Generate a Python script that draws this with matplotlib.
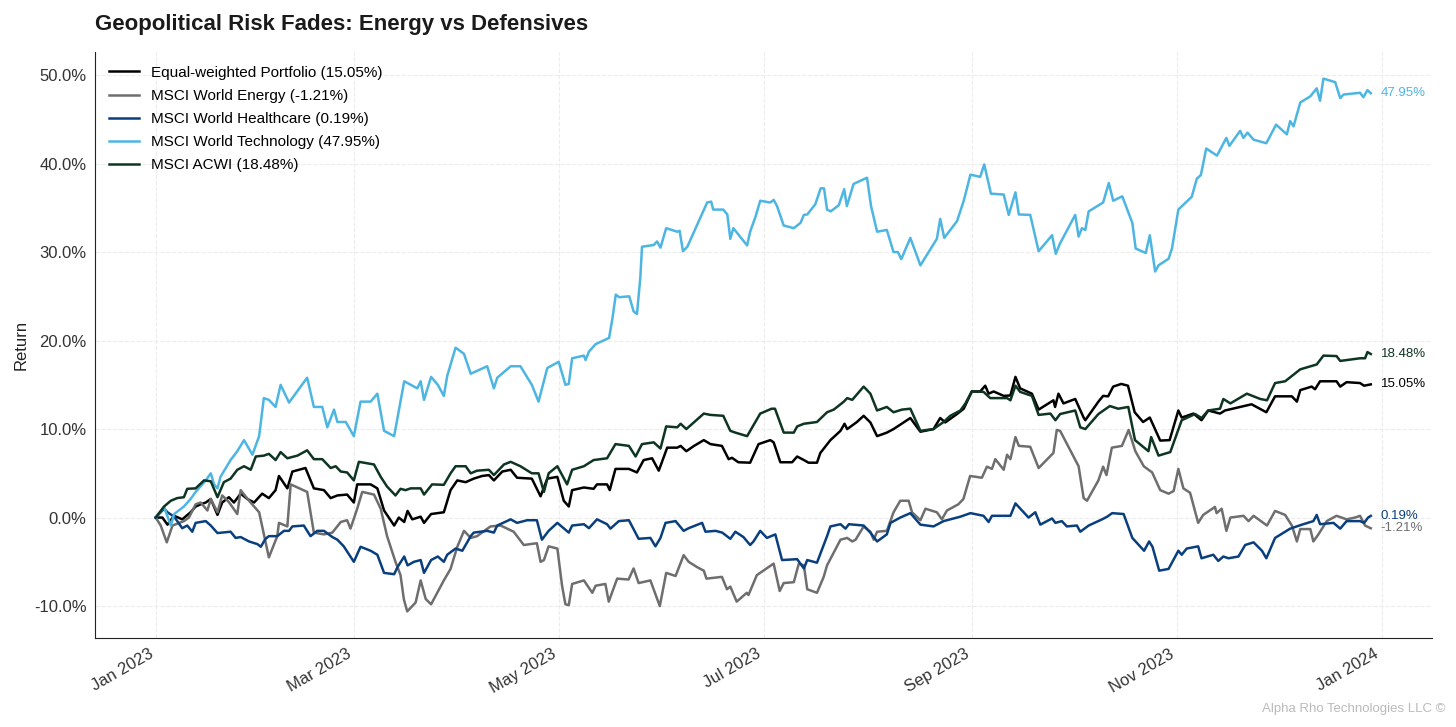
import pandas as pd
import matplotlib
matplotlib.use("Agg")
import matplotlib.pyplot as plt
import matplotlib.dates as mdates
from matplotlib.ticker import FuncFormatter

plt.rcParams['font.family'] = ['Liberation Sans', 'DejaVu Sans']

# (days since 2023-01-01, cumulative return %)
portfolio = [(0,0),(2,0),(3.5,-0.8),(5.5,0.2),(7.9,-0.2),(10.4,0.6),(11.9,1.25),(13.4,1.5),(14.9,1.7),(16.4,2.1),(18.4,0.3),(19.8,1.7),(21.8,2.3),(23.3,1.7),(25.3,2.7),(27.3,2.1),(29.3,1.7),(31.7,2.7),(33.7,2.2),(35.7,3.1),(36.7,4.7),(39.2,3.3),(40.7,5.2),(44.6,5.6),(47.1,3.3),(50.1,3.1),(52.1,2.2),(54.1,2.5),(57,2.6),(59,1.7),(60,3.75),(64,3.75),(66,3.3),(68,0.8),(71,-0.9),(72.4,0),(74,-0.5),(75,0.75),(76.4,-0.2),(78.9,0.1),(79.9,-0.6),(82,0.4),(85.8,0.6),(87.8,3.1),(89.8,4.2),(92.3,4),(94.7,4.4),(97.2,4.7),(99.2,4.8),(100.7,4.2),(103.2,5.2),(105.7,5.4),(107.6,4.5),(112,4.4),(114.6,2.4),(116.6,4.4),(119.6,4.6),(121.5,1.9),(123,1.25),(124,3.1),(127.5,3.4),(130.4,3.25),(131.4,3.75),(134.4,3.75),(135.2,3.1),(136.9,5.5),(140.9,5.5),(143.3,5.1),(145.3,6.5),(147.8,6.7),(149.8,5.3),(152.3,7.9),(155.3,7.9),(156.3,8.1),(158,7.5),(160.3,8.1),(163.2,8.75),(165.2,8.3),(168.6,8.1),(170.6,6.6),(171.6,6.75),(173.5,6.25),(177,6.2),(179.5,8.3),(183,8.75),(184,8.5),(186,6.25),(189.5,6.25),(191,6.9),(193,6.5),(194.4,6.2),(196.9,6.2),(197.9,7.3),(200.9,8.75),(203.9,9.8),(205.1,10.6),(205.9,10),(208.8,10.8),(210.8,11.5),(212.8,10.75),(214.8,9.2),(217.7,9.6),(219.7,10),(223.7,11),(224.7,11.25),(227.7,9.7),(231.6,10),(233.6,11.25),(235.1,10.75),(238.6,11.7),(240.6,12.3),(243,14.25),(245.5,14.25),(247,14.9),(248,14),(249.5,14.25),(252.5,13.75),(254.5,13.8),(256,15.9),(257.4,14.6),(260.9,14),(262.9,12.2),(267.3,13.25),(267.8,12.5),(268.8,14),(270.3,12.9),(273.8,13.4),(276.3,11.3),(276.8,11),(280.7,13.1),(282.1,13.75),(283.6,13.7),(285.1,14.8),(287.5,15.1),(289.5,14.9),(291.5,11.9),(294,10.8),(296,11.3),(299.1,8.7),(301.9,8.75),(304.5,12.1),(305.5,11.3),(309,11.75),(311.4,11),(313.4,12.1),(316.9,11.75),(318.4,12.1),(326.3,12.8),(330.7,11.9),(333.3,13.7),(338.3,13.7),(339.8,13.1),(340.8,14.4),(344.2,14.8),(345.2,14.5),(346.7,15.4),(351.6,15.4),(352.7,14.8),(354.6,15.3),(358.6,15.2),(359.8,14.9),(361.8,15.05)]

energy = [(0,0),(1.5,-0.9),(3.3,-2.8),(5,-0.9),(8.4,-0.4),(9.9,0),(11.9,1.5),(13.4,1.7),(15.4,0.8),(16.4,2.1),(18.4,0.6),(19.8,2.5),(21.8,1.75),(24.3,0.4),(25.3,3.1),(27.8,1.9),(29.3,1.25),(30.8,0.6),(33.7,-4.5),(36.2,-2.1),(36.7,-0.6),(39.2,-1.0),(40.2,3.75),(45.1,2.9),(47.1,-1.7),(50.1,-1.9),(52.6,-1.7),(55.1,-0.5),(57,-0.3),(58,-1.25),(60,1.0),(61.5,2.9),(65,2.6),(67,1.0),(68.9,-2.1),(71.4,-5),(72.9,-6.5),(73.9,-9.25),(74.9,-10.6),(77.4,-9.6),(78.9,-7.1),(80.4,-9.2),(82,-9.8),(85.8,-7.1),(87.8,-5.8),(89.8,-3.3),(91.8,-1.5),(93.8,-2.3),(95.7,-2.1),(99.7,-1.0),(102.7,-0.9),(106.6,-1.6),(109.6,-3.1),(113.5,-2.9),(114.6,-5),(115.6,-4.8),(117,-3.25),(119.6,-3.5),(121,-7.7),(122,-9.8),(123,-9.9),(124,-7.5),(127.5,-7.1),(130,-8.5),(131,-7.7),(133.9,-7.5),(134.9,-9.5),(137.4,-6.9),(140.8,-7),(142.3,-5.75),(143.8,-7.4),(147.3,-7.1),(150.1,-10),(152,-6.25),(154.8,-6.6),(157.2,-4.25),(158.7,-5),(161.2,-5.6),(163.2,-6),(164,-6.9),(168.6,-6.7),(170.1,-8.1),(171.1,-7.8),(173,-9.5),(176,-8.5),(176.5,-8.75),(179,-6.5),(184,-5.2),(185.8,-8.3),(187,-7.4),(190,-7.3),(191.5,-5.2),(193,-5.4),(194,-8.1),(196.9,-8.5),(198.9,-6.7),(199.9,-5.4),(203.9,-2.5),(205.9,-2.3),(207.4,-2.7),(208.4,-2.5),(210.8,-1.0),(212.8,-1.6),(213.8,-2.5),(214.8,-1.6),(217.7,-1.5),(219.7,0.6),(221.7,1.9),(224.2,1.9),(225.2,0.6),(227.7,-0.3),(229.2,1.0),(232.6,0.6),(234.1,-0.2),(235.6,0.8),(239,1.5),(240.5,2.1),(242.5,4.7),(246,4.5),(247.5,5.75),(249,5.5),(250,6.6),(252.5,5.4),(253.5,7.1),(254.5,6.6),(256,9.1),(257,8.1),(260.4,8.0),(262.9,5.6),(267.3,7.3),(268.3,9.9),(269.3,9.8),(274.8,5.8),(276.3,2.2),(277.3,1.9),(280.7,4.2),(282.1,5.75),(283.1,4.8),(284.7,7.9),(287.7,8.1),(289.7,9.9),(291.7,7.5),(294.2,5.8),(296.7,5.1),(299.1,3.1),(301.6,2.7),(303.1,3.0),(304.5,5.5),(306,3.3),(308,2.8),(310.4,-0.6),(311.9,0.3),(315.4,1.2),(315.9,0.5),(317.4,1.0),(318.8,-1.5),(320,0),(323.9,0.2),(325.4,-0.4),(326.9,0.2),(330.9,-0.9),(333.3,0.75),(336.3,0.3),(338.3,-0.9),(339.8,-2.7),(340.8,-1.3),(343.8,-1.3),(344.7,-2.7),(346.2,-1.9),(348.7,-0.4),(351.6,0.2),(354.6,-0.2),(357.1,0),(358.6,0.2),(360.1,-0.9),(361.8,-1.21)]

healthcare = [(0,0),(2.5,1.0),(3.5,0.6),(5.5,0.1),(7.9,-1.2),(9.4,-0.9),(10.9,-1.6),(11.9,-0.6),(14.9,-0.4),(16.4,-0.9),(18.4,-1.75),(22.3,-1.6),(23.8,-2.3),(25.3,-2.2),(27.8,-2.7),(30.3,-3.0),(31.3,-3.3),(32.7,-2.4),(33.7,-2.1),(36.2,-2.1),(38.2,-1.5),(39.7,-1.5),(40.7,-1.0),(44.1,-0.9),(46.1,-2.1),(48.1,-1.5),(50.1,-1.5),(52.6,-2.2),(54.1,-2.5),(56,-3.25),(59,-5),(61,-3.3),(64,-3.75),(66,-4.2),(68,-6.25),(71,-6.4),(72,-5.6),(74,-4.4),(75,-5.4),(76.9,-5),(78.9,-4.8),(79.9,-6.25),(82,-4.8),(84,-4.4),(85.8,-5),(86.8,-4.2),(89.3,-3.5),(91.3,-3.75),(93.8,-2.1),(94.7,-1.7),(98.7,-1.5),(100.7,-1.7),(101.7,-0.9),(105.7,-0.2),(107.6,-0.6),(109.6,-0.4),(110.6,-0.3),(113.5,-0.3),(115,-2.5),(117,-1.5),(119.6,-0.6),(123,-1.7),(124,-0.9),(127.5,-0.75),(129,-1.2),(131.4,-0.2),(134.4,-0.75),(135.4,-1.25),(137.9,-0.4),(140.9,-0.3),(143.8,-2.4),(147.3,-2.3),(148.8,-3.25),(150.3,-2.3),(151.8,-0.6),(154.8,-0.4),(157.2,-1.5),(158.7,-1.2),(162.7,-0.6),(163.7,-1.6),(166.7,-1.5),(168.7,-1.7),(171.1,-2.4),(172.6,-1.6),(175,-2.2),(177,-3.1),(178,-2.7),(180,-1.5),(182,-2.3),(184.5,-1.9),(186.5,-4.8),(191,-4.7),(193,-5.75),(194,-4.8),(196.9,-5.1),(199.9,-2.1),(200.9,-1.0),(203.9,-0.75),(205.4,-1.25),(206.4,-0.75),(210.8,-0.9),(212.8,-1.7),(214.8,-2.7),(217.7,-1.9),(218.8,-0.6),(221.7,0),(224.7,0.5),(227.7,-0.8),(231.6,-1.0),(234.6,-0.4),(239.6,0.1),(242.6,0.5),(246.5,0.2),(248,-0.5),(249,0.2),(254.5,0.2),(256,1.6),(259.9,0),(261.9,0.6),(263.4,-0.8),(266.9,-0.1),(267.9,-0.6),(269.8,-0.4),(271.3,-1),(274.3,-0.9),(275.3,-1.6),(277.8,-0.9),(281.8,-0.2),(283.3,0.1),(284.8,0.5),(288.2,0.4),(290.8,-2.3),(294.3,-3.75),(295.8,-2.7),(296.8,-3.3),(298.8,-6.0),(301.6,-5.8),(304.5,-3.75),(305.5,-4.2),(307,-3.5),(310.4,-3.25),(311.4,-4.6),(314.9,-4.2),(316.4,-4.9),(317.9,-4.4),(319.4,-4.6),(322.4,-4.4),(324.4,-3.1),(326.9,-2.8),(329.4,-3.75),(330.7,-4.6),(333.3,-2.3),(337.8,-1.25),(341.3,-0.8),(344.7,-0.4),(345.7,0.3),(346.7,-0.75),(350.7,-0.6),(352.7,-1.25),(354.6,-0.4),(358.6,-0.4),(359.8,-0.6),(361,0),(361.8,0.19)]

technology = [(0,0),(2.5,1.2),(4.5,-0.9),(5.5,0.4),(8.4,1.25),(10.4,2.1),(11.9,2.9),(14.9,4.2),(16.4,5.0),(17.4,3.75),(18.4,3.3),(19.3,4.6),(22.3,6.5),(24.3,7.5),(26.3,8.75),(28.8,7.1),(30.8,9.2),(32.2,13.5),(33.7,13.3),(35.7,12.5),(37.2,15),(39.7,13),(45.1,15.8),(47.1,12.5),(49.6,12.5),(51.1,10.2),(53.1,12.2),(54.1,10.8),(56.6,10.8),(59,9.2),(61,13.1),(64,13.1),(66,14),(68,9.8),(71,9.2),(74,15.4),(77.9,14.6),(78.9,15.4),(79.9,13.3),(82,15.9),(84,15),(85.8,13.75),(86.8,16),(89.3,19.2),(91.8,18.5),(93.8,16.25),(98.7,17.1),(100.7,14.6),(101.7,15.8),(105.7,17.1),(108.6,17.1),(112,15),(114,13.1),(116.6,16.9),(120,17.6),(122,15),(123,15.1),(124,18),(127.5,18.3),(128,17.8),(129,18.75),(131,19.6),(135,20.3),(136,22.5),(137,25.2),(138,24.9),(141,25),(142.3,23.3),(143.3,23),(144.3,27.1),(144.8,30.6),(148.3,30.8),(149.3,31.2),(150.3,30.5),(152,32.7),(155.3,32.3),(156,32.4),(157,30.1),(158.3,30.6),(164.2,35.6),(165.4,35.7),(166,34.8),(169,34.8),(170.2,34.25),(171.1,31.5),(172,32.7),(176.1,30.75),(177,32.3),(178.6,34),(180,35.8),(183,35.6),(184,35.9),(185,35.2),(187,33),(190,32.7),(192,33.3),(193,34.2),(194,34.25),(196.4,35.4),(198,37.2),(199,37.2),(199.9,34.8),(201,34.6),(203.4,35.3),(205,37.1),(205.8,35.2),(207.8,37.7),(211.8,38.4),(213,35.2),(214.8,32.3),(217.7,32.5),(219.7,30),(221,30),(222,29.2),(224.7,31.6),(227.7,28.5),(232.6,31.5),(233.6,33.75),(234.8,31.6),(238.6,33.5),(240.6,35.8),(242.6,38.75),(245.5,38.5),(246.7,39.9),(248.7,36.6),(252.5,36.5),(254,34.2),(256,36.75),(257,34.25),(260.4,34.2),(262.9,30.1),(266.9,31.9),(268,29.8),(269.3,31),(273.8,34.2),(274.8,31.75),(275.8,32.7),(276.8,32.5),(277.8,34.6),(282.1,35.6),(283.8,37.8),(285.1,35.8),(287.8,36.3),(290.8,33.3),(291.8,30.4),(294.8,29.9),(296,31.9),(297.6,27.8),(298.6,28.5),(301.6,29.25),(302.6,30.4),(304.5,34.8),(308.5,36.25),(310,38.3),(311.2,38.7),(312.8,41.7),(316,40.9),(318.8,42.9),(319.7,42),(322.9,43.7),(323.9,42.9),(325.1,43.5),(326.9,42.7),(330.7,42.3),(333.6,44.4),(336.8,43.3),(337.8,44.8),(338.8,44.2),(340.8,46.9),(343.8,47.6),(345.7,48.5),(346.7,47.1),(347.7,49.6),(351.2,49.2),(352.7,47.4),(353.7,47.8),(358.6,48),(359.6,47.5),(360.8,48.3),(361.8,47.95)]

acwi = [(0,0),(2.5,1.25),(4.5,1.9),(6.4,2.2),(8.4,2.3),(9.4,3.25),(11.9,3.3),(14.4,4.2),(16.4,4.1),(18.4,2.3),(20.3,4.0),(22.3,4.4),(24.3,5.4),(26.3,5.8),(28.3,5.4),(29.8,6.9),(32.2,7.0),(33.7,7.2),(35.7,6.5),(37.2,7.4),(39.2,6.7),(42.2,7.0),(45.1,7.6),(47.1,6.6),(49.6,6.6),(52.1,5.6),(53.6,5.8),(55.1,5.2),(57,5.1),(59,4.2),(60.5,6.3),(65,6.0),(67,4.6),(68.9,3.5),(71.4,2.5),(72.9,3.25),(74.4,3.1),(75.9,3.3),(78.9,3.3),(79.9,2.6),(82.3,3.75),(85.8,3.7),(87.8,5),(89.3,5.8),(92.3,5.8),(93.8,5),(95.7,5.3),(99.2,5.4),(100.7,4.8),(103.7,6.0),(105.7,6.3),(108.6,5.8),(112,5.0),(114,5.0),(115.6,2.9),(117,5.0),(119.6,5.8),(122.5,3.75),(124,5.4),(127.5,5.8),(130.4,6.5),(134.4,6.7),(136.9,8.3),(140.9,8.1),(142.9,6.9),(144.8,8.3),(148.3,8.5),(150.3,7.8),(152,10.3),(155.3,10.2),(156.3,10.6),(158,10),(159.8,10.6),(163.2,11.75),(165.2,11.6),(169,11.5),(171.1,9.8),(172.6,9.6),(176.1,9.2),(180,11.75),(183.4,12.3),(184.4,12.3),(187,9.6),(190,9.6),(191,10.3),(193,10.6),(196.9,10.8),(199.9,11.9),(201.9,12.2),(204.9,13.1),(205.9,13.5),(207.4,13.3),(210.8,14.8),(212.8,14),(214.8,12.1),(217.7,12.5),(219.7,11.9),(222.2,12.2),(224.7,12.3),(227.7,9.8),(231.6,10),(234.6,10.8),(236.6,11.5),(239.6,12.1),(241.1,12.9),(243,14.25),(246.5,14.2),(248.5,13.5),(253.5,13.5),(254.5,13.25),(256,14.9),(257.4,14.2),(260.9,13.75),(262.9,11.6),(266.4,11.75),(267.9,11.0),(269.3,11.7),(273.8,12.1),(275.3,10.2),(276.8,10),(280.7,11.7),(284.1,12.6),(286.6,12.3),(289.6,12.5),(291.6,8.75),(295.6,7.5),(296.4,9.1),(298.6,7.0),(302.1,7.4),(305.5,11.0),(309.5,11.7),(311.4,11.25),(313.4,12.1),(316.9,12.3),(317.9,13.4),(320,12.9),(324.9,14),(328.9,13.4),(330.9,13.25),(333.3,15.2),(336.3,15.4),(340.8,16.75),(345.7,17.3),(347.7,18.3),(351.6,18.25),(352.7,17.7),(358.6,18),(360.1,18),(360.8,18.7),(361.8,18.48)]

names = ["Equal-weighted Portfolio", "MSCI World Energy", "MSCI World Healthcare",
         "MSCI World Technology", "MSCI ACWI"]
final_returns = [15.05, -1.21, 0.19, 47.95, 18.48]
colors = ["#000000", "#6e6e6e", "#0a3f7e", "#4db5e2", "#0e3522"]
series = [portfolio, energy, healthcare, technology, acwi]

start = pd.Timestamp("2023-01-01")

fig = plt.figure(figsize=(14.56, 7.27), dpi=100)
ax = fig.add_axes([0.0652, 0.1224, 0.918, 0.8061])

for name, fin, col, pts in zip(names, final_returns, colors, series):
    days = [p[0] for p in pts]
    vals = [p[1] for p in pts]
    dates = start + pd.to_timedelta(days, unit="D")
    ax.plot(dates, vals, color=col, lw=1.8, label=f"{name} ({fin:.2f}%)")
    ax.annotate(f"{fin:.2f}%", xy=(dates[-1], vals[-1]), xytext=(7, 0),
                textcoords="offset points", va="center", ha="left",
                fontsize=9.5, color=col)

ax.xaxis.set_major_locator(mdates.MonthLocator(bymonth=[1, 3, 5, 7, 9, 11]))
ax.xaxis.set_major_formatter(mdates.DateFormatter("%b %Y"))
ax.yaxis.set_major_formatter(FuncFormatter(lambda v, _: f"{v:.1f}%"))
ax.set_yticks([-10, 0, 10, 20, 30, 40, 50])

for lbl in ax.get_xticklabels():
    lbl.set_rotation(30)
    lbl.set_ha("right")
ax.tick_params(axis="both", length=0, labelsize=12, labelcolor="#333333", pad=6)

ax.grid(True, color="#ececec", linestyle="--", linewidth=0.8)
ax.set_axisbelow(True)
for s in ["top", "right"]:
    ax.spines[s].set_visible(False)
ax.spines["left"].set_color("#222222")
ax.spines["bottom"].set_color("#222222")

ax.set_ylabel("Return", fontsize=12, color="#222222")
ax.set_title("Geopolitical Risk Fades: Energy vs Defensives", loc="left",
             fontsize=16, fontweight="bold", color="#1a1a1a", pad=16)
ax.legend(loc="upper left", frameon=False, fontsize=11, handlelength=2.0,
          labelspacing=0.6)

fig.text(0.993, 0.025, "Alpha Rho Technologies LLC ©", ha="right", va="center",
         fontsize=9.5, color="#bbbbbb")

fig.savefig("out.png", dpi=100)
